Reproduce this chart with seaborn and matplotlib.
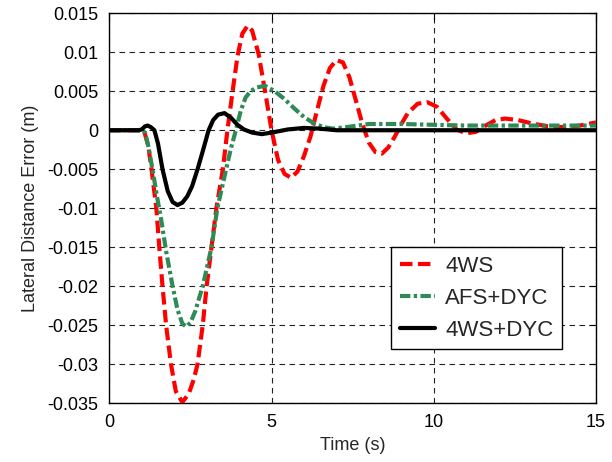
import numpy as np
import pandas as pd
import matplotlib
matplotlib.use("Agg")
import matplotlib.pyplot as plt
import seaborn as sns

# ---- data ----
t_4ws = [0, 1.0, 1.08, 1.2, 1.3, 1.45, 1.54, 1.64, 1.75, 1.9, 2.05, 2.25, 2.45, 2.6, 2.72,
         2.88, 3.0, 3.15, 3.3, 3.5, 3.64, 3.8, 3.95, 4.1, 4.26, 4.4, 4.6, 4.8, 5.0, 5.2, 5.4,
         5.6, 5.8, 6.0, 6.2, 6.4, 6.6, 6.8, 7.0, 7.2, 7.4, 7.6, 7.8, 8.0, 8.2, 8.4, 8.6, 8.8,
         9.0, 9.2, 9.5, 9.8, 10.1, 10.4, 10.7, 11.0, 11.3, 11.6, 11.9, 12.2, 12.6, 13.0, 13.5,
         14.0, 14.5, 15.0]
v_4ws = [0, 0, -0.0002, -0.002, -0.005, -0.010, -0.015, -0.020, -0.025, -0.030, -0.0335,
         -0.0349, -0.0338, -0.032, -0.030, -0.025, -0.020, -0.015, -0.010, -0.005, 0.0, 0.005,
         0.0095, 0.0124, 0.0134, 0.0128, 0.0098, 0.005, 0.0, -0.0038, -0.0056, -0.0061, -0.0053,
         -0.0033, -0.0008, 0.0025, 0.0057, 0.0080, 0.0090, 0.0087, 0.0068, 0.0038, 0.0008,
         -0.0016, -0.0028, -0.0030, -0.0022, -0.0008, 0.0008, 0.0022, 0.0034, 0.0036, 0.0030,
         0.0015, 0.0001, -0.0004, -0.0002, 0.0006, 0.0013, 0.0015, 0.0013, 0.0009, 0.0005,
         0.0004, 0.0006, 0.0010]

t_afs = [0, 1.0, 1.1, 1.2, 1.33, 1.47, 1.6, 1.75, 1.95, 2.1, 2.25, 2.37, 2.5, 2.65, 2.88, 3.15,
         3.33, 3.6, 3.75, 3.9, 4.05, 4.2, 4.35, 4.55, 4.8, 5.1, 5.4, 5.7, 6.0, 6.3, 6.6, 6.9,
         7.3, 8.0, 9.0, 10.0, 11.0, 12.0, 13.0, 14.0, 15.0]
v_afs = [0, 0, -0.0003, -0.002, -0.005, -0.0085, -0.0115, -0.0155, -0.020, -0.0230, -0.0248,
         -0.0252, -0.0247, -0.0232, -0.020, -0.015, -0.010, -0.005, -0.0023, 0.0, 0.0025,
         0.0042, 0.0050, 0.0055, 0.0057, 0.0050, 0.0040, 0.0028, 0.0017, 0.0009, 0.0004,
         0.0002, 0.0004, 0.0008, 0.0008, 0.0007, 0.0006, 0.0006, 0.0006, 0.0006, 0.0006]

t_dyc = [0, 0.9, 1.0, 1.1, 1.18, 1.28, 1.39, 1.5, 1.64, 1.8, 1.95, 2.1, 2.25, 2.4, 2.55, 2.72,
         2.9, 3.06, 3.2, 3.35, 3.55, 3.75, 3.95, 4.15, 4.4, 4.7, 5.0, 5.5, 6.0, 6.5, 7.0, 8.0,
         10.0, 12.0, 15.0]
v_dyc = [0, 0, 0.0001, 0.0005, 0.0006, 0.0004, 0.0, -0.0017, -0.005, -0.0078, -0.0092,
         -0.0096, -0.0093, -0.0085, -0.0072, -0.005, -0.0024, 0.0, 0.0013, 0.0020, 0.0022,
         0.0016, 0.0007, 0.0001, -0.0003, -0.0005, -0.0003, 0.0001, 0.0003, 0.0002, 0.0, 0.0,
         0.0, 0.0, 0.0]

labels = ["4WS", "AFS+DYC", "4WS+DYC"]
x_ticks = [0, 5, 10, 15]
y_ticks = [-0.035, -0.03, -0.025, -0.02, -0.015, -0.01, -0.005, 0, 0.005, 0.01, 0.015]
y_ticklabels = ["-0.035", "-0.03", "-0.025", "-0.02", "-0.015", "-0.01", "-0.005", "0",
                "0.005", "0.01", "0.015"]

sns.set_style("white")
plt.rcParams["font.family"] = ["Liberation Sans", "DejaVu Sans"]

fig = plt.figure(figsize=(6.12, 4.62), dpi=100)
ax = fig.add_axes([0.1786, 0.1277, 0.7953, 0.8434])

sns.lineplot(x=t_4ws, y=v_4ws, ax=ax, color="#FF0000", lw=3, label=labels[0],
             estimator=None, sort=False, zorder=3)
ax.lines[-1].set_dashes((3, 1.3))
sns.lineplot(x=t_afs, y=v_afs, ax=ax, color="#2E8B57", lw=3, label=labels[1],
             estimator=None, sort=False, zorder=3)
ax.lines[-1].set_dashes((2.5, 0.8, 0.8, 0.8))
sns.lineplot(x=t_dyc, y=v_dyc, ax=ax, color="black", lw=3, label=labels[2],
             estimator=None, sort=False, zorder=4)

ax.set_xlim(0, 15)
ax.set_ylim(-0.035, 0.015)
ax.set_xticks(x_ticks)
ax.set_xticklabels([str(x) for x in x_ticks])
ax.set_yticks(y_ticks)
ax.set_yticklabels(y_ticklabels)
ax.tick_params(direction="in", length=5, width=0.8, labelsize=13, top=True, right=True,
               colors="black", pad=8)
ax.grid(True, color="#222222", linestyle=(0, (5, 4)), linewidth=0.8)
for s in ax.spines.values():
    s.set_visible(True)
    s.set_color("black")
    s.set_linewidth(1.0)

ax.set_xlabel("Time (s)", fontsize=13, labelpad=4)
ax.set_ylabel("Lateral Distance Error (m)", fontsize=13, labelpad=6)

leg = ax.legend(loc="upper left", bbox_to_anchor=(0.579, 0.400), fontsize=16,
                handlelength=1.6, handletextpad=0.45, labelspacing=0.5, borderpad=0.38,
                frameon=True, fancybox=False, shadow=False, borderaxespad=0)
leg.get_frame().set_edgecolor("black")
leg.get_frame().set_linewidth(1.0)
leg.get_frame().set_alpha(1)

fig.savefig("out.png", dpi=100)
